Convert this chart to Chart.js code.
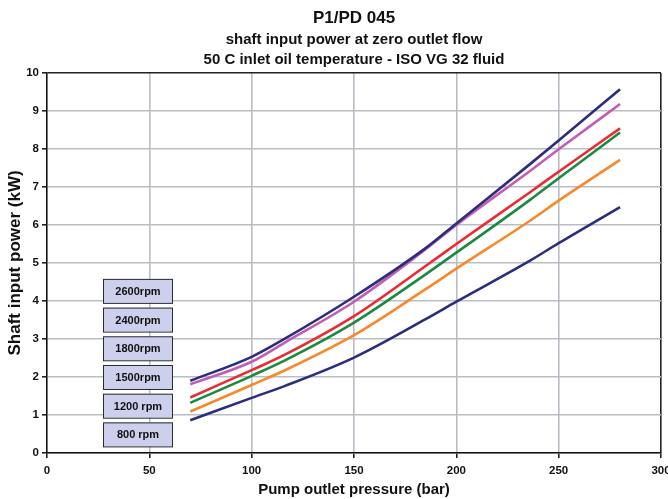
<!DOCTYPE html>
<html>
<head>
<meta charset="utf-8">
<script src="https://cdn.jsdelivr.net/npm/chart.js@4.4.1/dist/chart.umd.min.js"></script>
<style>
  body { margin: 0; background: #fff; overflow: hidden; }
  #wrap { width: 668px; height: 499px; overflow: hidden; }
</style>
</head>
<body>
<div id="wrap"><canvas id="chart" width="680" height="499"></canvas></div>
<script>
// pump outlet pressure (bar)
const pressure = [70, 100, 116, 150, 185, 200, 236, 250, 280];

// shaft input power (kW) per speed
const rpm2600 = [1.90, 2.53, 3.00, 4.11, 5.39, 6.04, 7.60, 8.22, 9.57];
const rpm2400 = [1.81, 2.40, 2.90, 3.98, 5.36, 6.00, 7.42, 7.99, 9.18];
const rpm1800 = [1.46, 2.18, 2.58, 3.60, 4.92, 5.50, 6.86, 7.40, 8.54];
const rpm1500 = [1.32, 2.03, 2.43, 3.43, 4.70, 5.27, 6.66, 7.23, 8.43];
const rpm1200 = [1.09, 1.79, 2.17, 3.10, 4.31, 4.85, 6.11, 6.64, 7.71];
const rpm800  = [0.86, 1.45, 1.76, 2.51, 3.52, 3.98, 5.06, 5.52, 6.47];

const labelBoxes = ["2600rpm", "2400rpm", "1800rpm", "1500rpm", "1200 rpm", "800 rpm"];

const xTicks = [0, 50, 100, 150, 200, 250, 300];
const yTicks = [0, 1, 2, 3, 4, 5, 6, 7, 8, 9, 10];

const font = "'Liberation Sans', Arial, sans-serif";

function pts(vals) {
    return vals.map((v, i) => ({ x: pressure[i], y: v }));
}

function serie(label, vals, color) {
    return {
        label: label,
        data: pts(vals),
        borderColor: color,
        backgroundColor: color,
        borderWidth: 2.6,
        pointRadius: 0,
        cubicInterpolationMode: "monotone",
        fill: false,
    };
}

// the little lavender label boxes on the left
const boxPlugin = {
    id: "rpmBoxes",
    afterDatasetsDraw(chart) {
        const ctx = chart.ctx;
        const a = chart.chartArea;
        ctx.save();
        ctx.font = "bold 11px " + font;
        ctx.textAlign = "center";
        ctx.textBaseline = "middle";
        labelBoxes.forEach((txt, i) => {
            const x = a.left + 56;
            const y = a.top + 206 + i * 28.7;
            ctx.fillStyle = "#cdd0ec";
            ctx.fillRect(x, y, 69, 24);
            ctx.strokeStyle = "#2a2a35";
            ctx.lineWidth = 1;
            ctx.strokeRect(x + 0.5, y + 0.5, 69, 24);
            ctx.fillStyle = "#111";
            ctx.fillText(txt, x + 35, y + 13);
        });
        ctx.restore();
    },
};

new Chart(document.getElementById("chart"), {
    type: "line",
    data: {
        datasets: [
            serie("2600rpm", rpm2600, "#2b2d7d"),
            serie("2400rpm", rpm2400, "#c25db4"),
            serie("1800rpm", rpm1800, "#ec2a32"),
            serie("1500rpm", rpm1500, "#1b8a40"),
            serie("1200 rpm", rpm1200, "#f6892b"),
            serie("800 rpm", rpm800, "#2b2d7d"),
        ],
    },
    options: {
        responsive: false,
        animation: false,
        layout: { padding: { left: 0, right: 19, top: 0, bottom: 0 } },
        plugins: {
            legend: { display: false },
            tooltip: { enabled: false },
            title: {
                display: true,
                text: "P1/PD 045",
                color: "#111",
                fullSize: false,
                font: { family: font, size: 17, weight: "bold" },
                padding: { top: 8, bottom: 0 },
            },
            subtitle: {
                display: true,
                text: ["shaft input power at zero outlet flow", "50 C inlet oil temperature - ISO VG 32 fluid"],
                color: "#111",
                fullSize: false,
                font: { family: font, size: 15, weight: "bold", lineHeight: 1.333 },
                padding: { top: 1.5, bottom: 3 },
            },
        },
        scales: {
            x: {
                type: "linear",
                min: 0,
                max: 300,
                afterFit: (s) => { s.height = 46; },
                afterBuildTicks: (s) => { s.ticks = xTicks.map((v) => ({ value: v })); },
                grid: {
                    color: (c) => (c.tick && c.tick.value === 300 ? "#222" : "#b9bdc5"),
                    lineWidth: 1.6,
                    tickColor: "#222",
                    tickLength: 5,
                },
                border: { color: "#111", width: 1.5 },
                ticks: {
                    color: "#111",
                    padding: 6,
                    maxRotation: 0,
                    font: { family: font, size: 11.5, weight: "bold" },
                },
                title: {
                    display: true,
                    text: "Pump outlet pressure (bar)",
                    color: "#111",
                    font: { family: font, size: 15, weight: "bold" },
                    padding: { top: 3, bottom: 0 },
                },
            },
            y: {
                min: 0,
                max: 10,
                afterFit: (s) => { s.width = 47; },
                afterBuildTicks: (s) => { s.ticks = yTicks.map((v) => ({ value: v })); },
                grid: {
                    color: (c) => (c.tick && c.tick.value === 10 ? "#222" : "#b9bdc5"),
                    lineWidth: 1.6,
                    tickColor: "#222",
                    tickLength: 5,
                },
                border: { color: "#111", width: 1.5 },
                ticks: {
                    color: "#111",
                    padding: 3,
                    font: { family: font, size: 11.5, weight: "bold" },
                },
                title: {
                    display: true,
                    text: "Shaft input power (kW)",
                    color: "#111",
                    font: { family: font, size: 17, weight: "bold" },
                    padding: { top: 5, bottom: 0 },
                },
            },
        },
    },
    plugins: [boxPlugin],
});
</script>
</body>
</html>
